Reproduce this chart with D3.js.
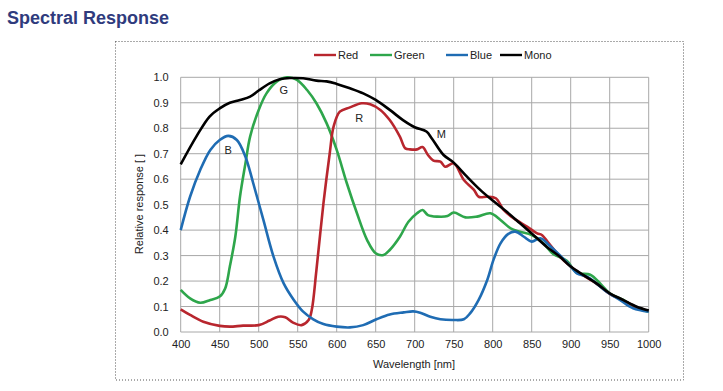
<!DOCTYPE html>
<html><head><meta charset="utf-8">
<script src="https://cdn.jsdelivr.net/npm/d3@7/dist/d3.min.js"></script>
<style>
body{margin:0;background:#fff;}
svg text{font-family:"Liberation Sans",Arial,sans-serif;}
</style></head>
<body><svg id="c" width="723" height="391"></svg>
<script>
const title = "Spectral Response";
const xTicks = [400,450,500,550,600,650,700,750,800,850,900,950,1000];
const yTicks = [0,0.1,0.2,0.3,0.4,0.5,0.6,0.7,0.8,0.9,1.0];
const seriesNames = ["Red","Green","Blue","Mono"];
const seriesColors = ["#b8262e","#2ea64b","#1f6cb3","#000000"];

const monoWl = [400,420,437,450,463,476,489,500,514,527,540,557,574,587,600,617,634,650,668,685,700,715,722,737,750,767,784,800,818,835,850,869,886,900,916,933,950,967,984,1000];
const monoVal = [0.658,0.767,0.846,0.878,0.90,0.911,0.924,0.948,0.976,0.992,0.997,0.996,0.987,0.984,0.974,0.957,0.937,0.911,0.872,0.832,0.804,0.787,0.76,0.695,0.665,0.61,0.558,0.516,0.472,0.427,0.387,0.335,0.296,0.257,0.224,0.191,0.152,0.126,0.10,0.084];

const redWl = [400,412,429,450,463,480,500,514,525,534,544,555,564,568,574,583,591,596,604,617,632,643,656,668,681,688,694,703,710,717,724,733,739,750,763,776,782,793,804,814,827,844,857,863,872,886,900,916,933,950,967,984,1000];
const redVal = [0.089,0.067,0.04,0.024,0.021,0.025,0.027,0.045,0.06,0.058,0.037,0.027,0.047,0.086,0.243,0.505,0.70,0.806,0.865,0.882,0.898,0.894,0.872,0.832,0.767,0.721,0.717,0.717,0.726,0.695,0.673,0.669,0.649,0.662,0.597,0.558,0.531,0.531,0.525,0.479,0.446,0.414,0.387,0.381,0.348,0.296,0.257,0.222,0.19,0.15,0.125,0.098,0.082];

const greenWl = [400,412,425,438,450,457,463,470,476,483,489,500,510,523,536,549,562,574,587,600,613,626,639,650,660,668,681,692,703,710,717,729,742,750,765,780,797,810,823,835,850,865,878,895,908,925,938,950,967,984,1000];
const greenVal = [0.165,0.132,0.115,0.126,0.139,0.171,0.257,0.374,0.531,0.662,0.767,0.872,0.937,0.983,1.0,0.99,0.95,0.898,0.82,0.715,0.584,0.466,0.361,0.309,0.302,0.322,0.374,0.433,0.466,0.479,0.459,0.453,0.455,0.469,0.45,0.453,0.466,0.44,0.407,0.394,0.381,0.348,0.305,0.28,0.232,0.225,0.19,0.152,0.127,0.095,0.08];

const blueWl = [400,412,425,438,450,461,472,483,493,506,519,532,545,557,570,583,600,617,634,651,668,686,698,707,720,733,750,763,771,782,793,801,810,820,829,840,850,861,872,886,900,908,921,933,946,963,980,1000];
const blueVal = [0.40,0.531,0.636,0.715,0.754,0.77,0.754,0.688,0.584,0.44,0.296,0.191,0.126,0.08,0.05,0.031,0.021,0.018,0.027,0.05,0.069,0.077,0.081,0.076,0.06,0.05,0.047,0.05,0.073,0.126,0.204,0.283,0.348,0.385,0.394,0.374,0.355,0.368,0.342,0.302,0.257,0.23,0.217,0.191,0.158,0.126,0.093,0.08];

const curveLabels = [{t:"G",wl:532,v:0.935},{t:"B",wl:461,v:0.7},{t:"R",wl:629,v:0.825},{t:"M",wl:734,v:0.76}];

const svg = d3.select("#c");
const x = d3.scaleLinear().domain([400,1000]).range([180.7,648.7]);
const y = d3.scaleLinear().domain([0,1]).range([332,77.3]);

svg.append("text").attr("x",7).attr("y",24).attr("font-size",18).attr("font-weight","bold")
  .attr("fill","#2f3b7d").text(title);

svg.append("rect").attr("x",115.5).attr("y",41.5).attr("width",568).attr("height",338.5)
  .attr("fill","none").attr("stroke","#555").attr("stroke-width",1).attr("stroke-dasharray","1,2");

const g = svg.append("g");
g.selectAll(".vx").data(xTicks).join("line")
  .attr("x1",d=>x(d)).attr("x2",d=>x(d)).attr("y1",y(1)).attr("y2",y(0))
  .attr("stroke","#a8a8a8").attr("stroke-width",1);
g.selectAll(".hy").data(yTicks).join("line")
  .attr("x1",x(400)).attr("x2",x(1000)).attr("y1",d=>y(d)).attr("y2",d=>y(d))
  .attr("stroke","#a8a8a8").attr("stroke-width",1);

const xAxis = d3.axisBottom(x).tickValues(xTicks).tickSize(0).tickPadding(8).tickFormat(d3.format("d"));
const yAxis = d3.axisLeft(y).tickValues(yTicks).tickSize(0).tickPadding(12).tickFormat(d3.format(".1f"));
const gx = svg.append("g").attr("transform",`translate(0,${y(0)})`).call(xAxis);
const gy = svg.append("g").attr("transform",`translate(${x(400)},0)`).call(yAxis);
[gx,gy].forEach(a=>{a.select(".domain").remove();a.selectAll("text").attr("font-size",11).attr("fill","#222").attr("font-family","Liberation Sans, Arial, sans-serif");});

svg.append("text").attr("x",414).attr("y",368).attr("text-anchor","middle").attr("font-size",11).attr("fill","#222").text("Wavelength [nm]");
svg.append("text").attr("transform","translate(143,204) rotate(-90)").attr("text-anchor","middle").attr("font-size",11).attr("fill","#222").text("Relative response [ ]");

const line = d3.line().x(d=>x(d[0])).y(d=>y(d[1])).curve(d3.curveCatmullRom.alpha(0.5));
const zip = (a,b)=>a.map((v,i)=>[v,b[i]]);
const data = [zip(redWl,redVal),zip(greenWl,greenVal),zip(blueWl,blueVal),zip(monoWl,monoVal)];
const order = [1,0,2,3];
order.forEach(i=>{
  svg.append("path").attr("d",line(data[i])).attr("fill","none")
    .attr("stroke",seriesColors[i]).attr("stroke-width",2.6).attr("stroke-linejoin","round");
});

svg.selectAll(".cl").data(curveLabels).join("text")
  .attr("x",d=>x(d.wl)).attr("y",d=>y(d.v)).attr("text-anchor","middle").attr("font-size",11).attr("fill","#222").text(d=>d.t);

const legX = [314,370,446,500];
seriesNames.forEach((n,i)=>{
  svg.append("line").attr("x1",legX[i]).attr("x2",legX[i]+22).attr("y1",55).attr("y2",55)
    .attr("stroke",seriesColors[i]).attr("stroke-width",2.4);
  svg.append("text").attr("x",legX[i]+24).attr("y",59).attr("font-size",11).attr("fill","#222").text(n);
});
</script></body></html>
